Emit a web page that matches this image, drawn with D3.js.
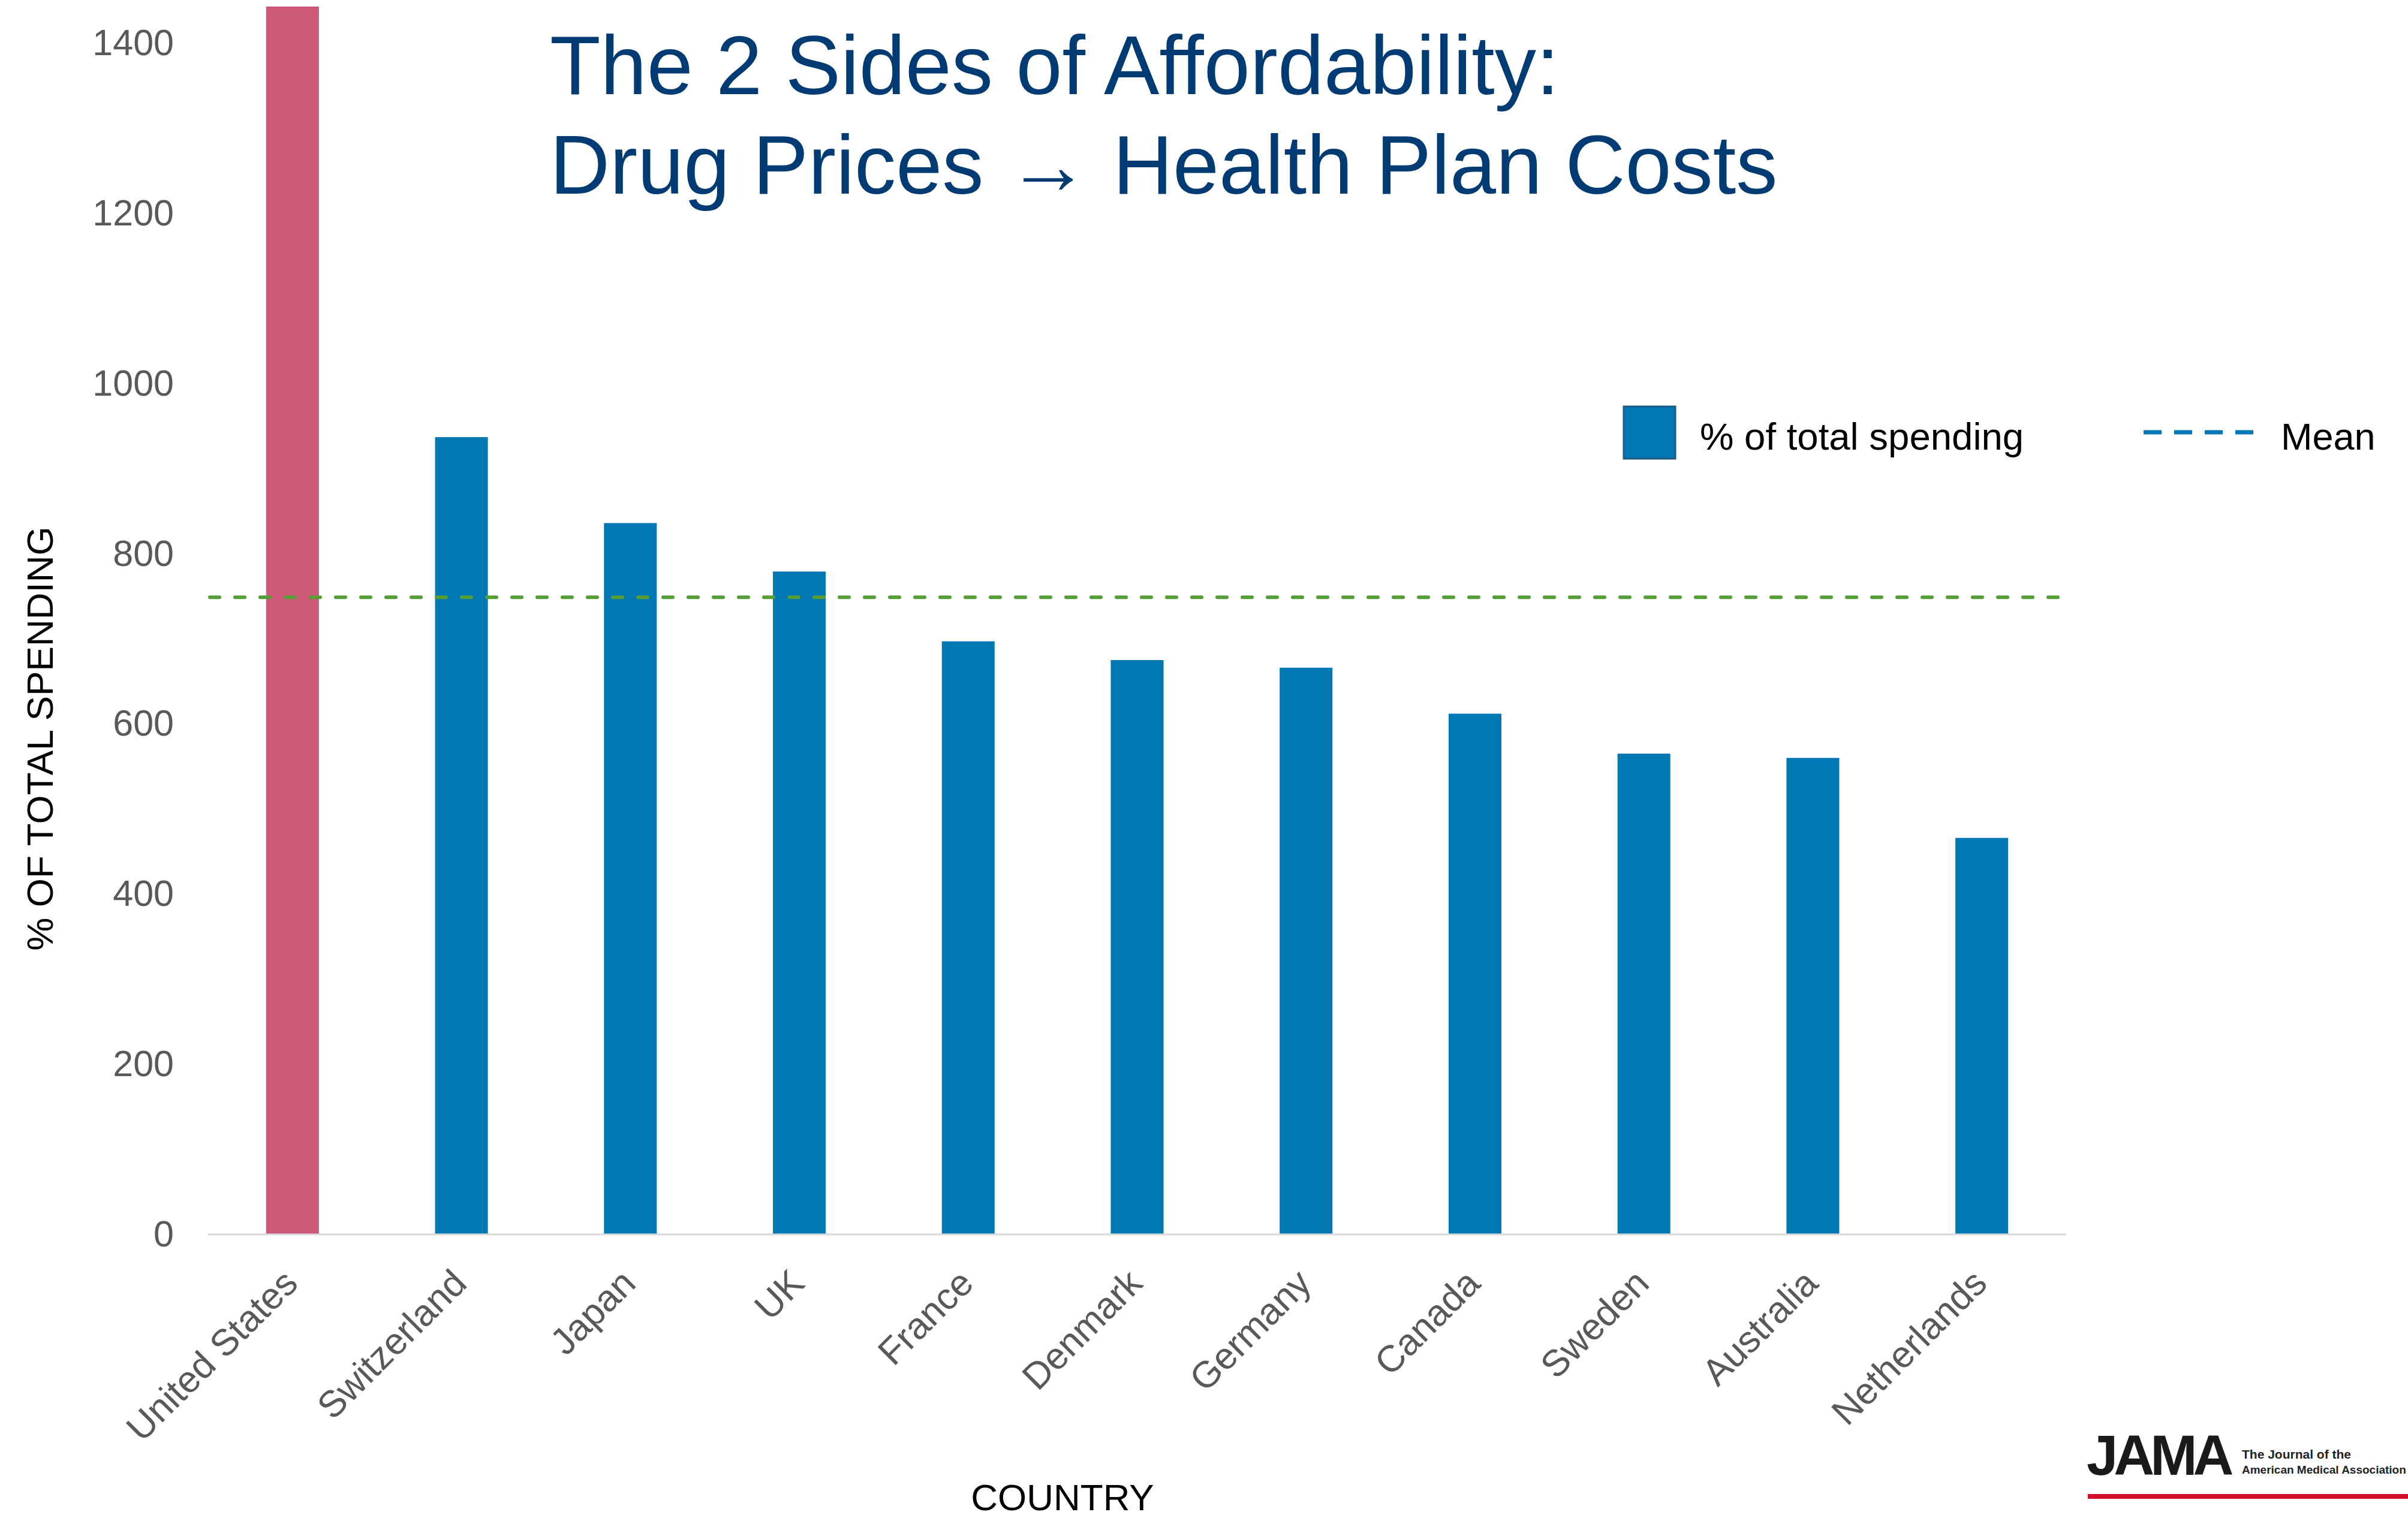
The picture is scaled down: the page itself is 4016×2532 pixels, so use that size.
<!DOCTYPE html>
<html>
<head>
<meta charset="utf-8">
<script src="https://cdn.jsdelivr.net/npm/d3@7"></script>
<style>
  html, body { margin: 0; padding: 0; background: #ffffff; }
  svg { display: block; font-family: "Liberation Sans", Arial, sans-serif; }
</style>
</head>
<body>
<svg id="chart" width="4016" height="2532"></svg>
<script>
// ---- Data ----
const countries = ["United States", "Switzerland", "Japan", "UK", "France", "Denmark",
                   "Germany", "Canada", "Sweden", "Australia", "Netherlands"];
const spending = [1443, 937, 836, 779, 697, 675, 666, 612, 565, 560, 466];
const yTicks = [0, 200, 400, 600, 800, 1000, 1200, 1400];
const titleLines = ["The 2 Sides of Affordability:", "Drug Prices \u2192 Health Plan Costs"];
const legendLabels = ["% of total spending", "Mean"];

// ---- Layout ----
const svg = d3.select("#chart");
const plotLeft = 347, plotRight = 3446, plotBottom = 2059, plotTop = 1;

const x = d3.scaleBand()
  .domain(countries)
  .range([plotLeft, plotRight])
  .paddingInner(0.6875)
  .paddingOuter(0.34375);

const y = d3.scaleLinear()
  .domain([0, 1450])
  .range([plotBottom, plotTop]);

const data = countries.map((c, i) => ({ country: c, value: spending[i] }));
const meanValue = d3.mean(spending);

// Bars
svg.append("g").selectAll("rect")
  .data(data)
  .join("rect")
  .attr("x", d => x(d.country))
  .attr("y", d => y(d.value))
  .attr("width", x.bandwidth())
  .attr("height", d => y(0) - y(d.value))
  .attr("fill", d => d.country === "United States" ? "#CE5877" : "#0078B4");

// Baseline axis (x)
svg.append("line")
  .attr("x1", plotLeft).attr("x2", plotRight)
  .attr("y1", y(0)).attr("y2", y(0))
  .attr("stroke", "#d9d9d9").attr("stroke-width", 3);

// Y axis via d3 axis (no domain line, no ticks)
const yAxis = d3.axisLeft(y).tickValues(yTicks).tickSize(0).tickPadding(57).tickFormat(d3.format("d"));
const yg = svg.append("g").attr("transform", `translate(${plotLeft},0)`).call(yAxis);
yg.select(".domain").remove();
yg.selectAll("text")
  .attr("font-family", "Liberation Sans, Arial, sans-serif")
  .attr("font-size", 61)
  .attr("fill", "#595959");

// X labels
const xAxis = d3.axisBottom(x).tickSize(0).tickPadding(0);
const xg = svg.append("g").attr("transform", `translate(0,${plotBottom})`).call(xAxis);
xg.select(".domain").remove();
xg.selectAll(".tick text")
  .attr("font-family", "Liberation Sans, Arial, sans-serif")
  .attr("font-size", 62)
  .attr("fill", "#595959")
  .attr("text-anchor", "end")
  .attr("dy", null)
  .attr("y", null)
  .attr("transform", "translate(12,85) rotate(-45)");

// Mean line
svg.append("line")
  .attr("x1", plotLeft).attr("x2", plotRight - 6)
  .attr("y1", y(meanValue)).attr("y2", y(meanValue))
  .attr("stroke", "#559E36")
  .attr("stroke-width", 6)
  .attr("stroke-dasharray", "16 26")
  .attr("stroke-linecap", "round")
  .attr("transform", "translate(3,0)");

// Title
svg.append("text")
  .attr("x", 917).attr("y", 157)
  .attr("font-size", 138.5)
  .attr("fill", "#003B73")
  .text(titleLines[0]);
svg.append("text")
  .attr("x", 917).attr("y", 323)
  .attr("font-size", 138.5)
  .attr("fill", "#003B73")
  .text(titleLines[1]);

// Legend
svg.append("rect")
  .attr("x", 2708).attr("y", 678)
  .attr("width", 86).attr("height", 87)
  .attr("fill", "#0077B5")
  .attr("stroke", "#1B5D88").attr("stroke-width", 3);
svg.append("text")
  .attr("x", 2835).attr("y", 750)
  .attr("font-size", 63.5)
  .attr("fill", "#000000")
  .text(legendLabels[0]);
svg.append("line")
  .attr("x1", 3575).attr("x2", 3758)
  .attr("y1", 721).attr("y2", 721)
  .attr("stroke", "#0077B5")
  .attr("stroke-width", 7)
  .attr("stroke-dasharray", "30 21");
svg.append("text")
  .attr("x", 3804).attr("y", 750)
  .attr("font-size", 63)
  .attr("fill", "#000000")
  .text(legendLabels[1]);

// Axis titles
svg.append("text")
  .attr("transform", "translate(88,1232) rotate(-90)")
  .attr("text-anchor", "middle")
  .attr("font-size", 62)
  .attr("fill", "#000000")
  .text("% OF TOTAL SPENDING");
svg.append("text")
  .attr("x", 1772).attr("y", 2519)
  .attr("text-anchor", "middle")
  .attr("font-size", 62)
  .attr("fill", "#000000")
  .text("COUNTRY");

// JAMA logo
svg.append("text")
  .attr("x", 3480).attr("y", 2460)
  .attr("font-size", 94)
  .attr("font-weight", "bold")
  .attr("letter-spacing", -7)
  .attr("fill", "#1a1a1a")
  .text("JAMA");
svg.append("text")
  .attr("x", 3739).attr("y", 2433)
  .attr("font-size", 21)
  .attr("font-weight", "bold")
  .attr("fill", "#222222")
  .text("The Journal of the");
svg.append("text")
  .attr("x", 3739).attr("y", 2458)
  .attr("font-size", 19)
  .attr("font-weight", "bold")
  .attr("fill", "#222222")
  .text("American Medical Association");
svg.append("rect")
  .attr("x", 3482).attr("y", 2492)
  .attr("width", 4016 - 3482).attr("height", 8)
  .attr("fill", "#D0112B");
</script>
</body>
</html>
